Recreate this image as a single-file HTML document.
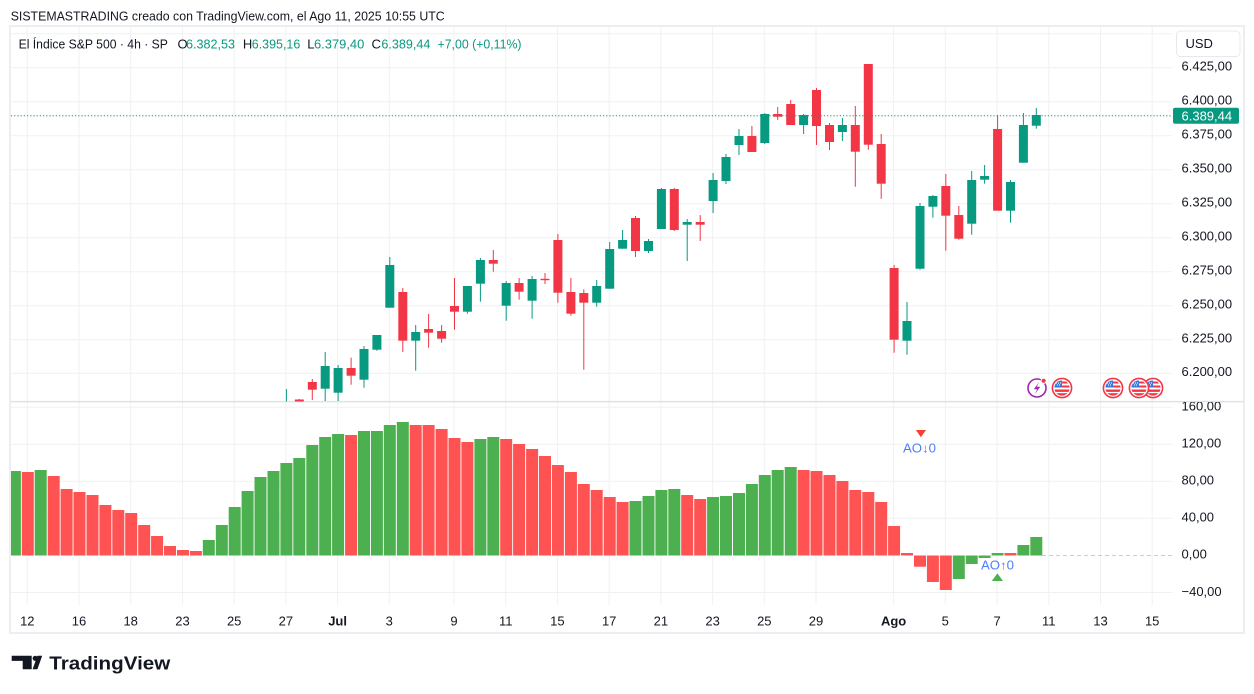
<!DOCTYPE html>
<html><head><meta charset="utf-8">
<style>
html,body{margin:0;padding:0;background:#fff;width:1254px;height:694px;overflow:hidden}
svg{display:block;font-family:"Liberation Sans",sans-serif}
</style></head>
<body>
<svg width="1254" height="694" viewBox="0 0 1254 694" xmlns="http://www.w3.org/2000/svg">
<defs>
  <clipPath id="pp"><rect x="11" y="27" width="1161" height="374.5"/></clipPath>
  <clipPath id="ip"><rect x="11" y="402" width="1161" height="203"/></clipPath>
  <clipPath id="ia"><rect x="1172" y="402" width="72" height="203"/></clipPath>
  <clipPath id="fc"><circle cx="0" cy="0" r="7.6"/></clipPath>
  <g id="flag">
    <circle cx="0" cy="0" r="9.6" fill="#fff" stroke="#f23645" stroke-width="1.6"/>
    <g clip-path="url(#fc)">
      <rect x="-8" y="-8" width="16" height="16" fill="#fff"/>
      <rect x="-8" y="-6.5" width="16" height="2" fill="#f23645"/>
      <rect x="-8" y="-2.5" width="16" height="2" fill="#f23645"/>
      <rect x="-8" y="1.5" width="16" height="2.4" fill="#f23645"/>
      <rect x="-8" y="5.2" width="16" height="3" fill="#f23645"/>
      <rect x="-8" y="-8" width="8" height="7.5" fill="#3a78e0"/>
      <circle cx="-5.5" cy="-5" r="0.6" fill="#fff"/><circle cx="-3.5" cy="-5" r="0.6" fill="#fff"/><circle cx="-1.5" cy="-5" r="0.6" fill="#fff"/>
      <circle cx="-4.5" cy="-3" r="0.6" fill="#fff"/><circle cx="-2.5" cy="-3" r="0.6" fill="#fff"/>
    </g>
  </g>
</defs>

<rect x="0" y="0" width="1254" height="694" fill="#fff"/>

<!-- header -->
<text x="10.7" y="20.5" font-size="13" fill="#131722" textLength="434" lengthAdjust="spacingAndGlyphs">SISTEMASTRADING creado con TradingView.com, el Ago 11, 2025 10:55 UTC</text>

<!-- frame -->
<rect x="10" y="26" width="1234" height="607" fill="none" stroke="#eceef2" stroke-width="2"/>

<!-- vertical gridlines -->
<g stroke="#f0f1f4" stroke-width="1">
  <line x1="27.3" y1="27" x2="27.3" y2="605"/>
  <line x1="79" y1="27" x2="79" y2="605"/>
  <line x1="130.7" y1="27" x2="130.7" y2="605"/>
  <line x1="182.5" y1="27" x2="182.5" y2="605"/>
  <line x1="234.2" y1="27" x2="234.2" y2="605"/>
  <line x1="285.9" y1="27" x2="285.9" y2="605"/>
  <line x1="337.6" y1="27" x2="337.6" y2="605"/>
  <line x1="389.3" y1="27" x2="389.3" y2="605"/>
  <line x1="454" y1="27" x2="454" y2="605"/>
  <line x1="505.7" y1="27" x2="505.7" y2="605"/>
  <line x1="557.4" y1="27" x2="557.4" y2="605"/>
  <line x1="609.2" y1="27" x2="609.2" y2="605"/>
  <line x1="660.9" y1="27" x2="660.9" y2="605"/>
  <line x1="712.6" y1="27" x2="712.6" y2="605"/>
  <line x1="764.3" y1="27" x2="764.3" y2="605"/>
  <line x1="816" y1="27" x2="816" y2="605"/>
  <line x1="893.6" y1="27" x2="893.6" y2="605"/>
  <line x1="945.3" y1="27" x2="945.3" y2="605"/>
  <line x1="997.1" y1="27" x2="997.1" y2="605"/>
  <line x1="1048.8" y1="27" x2="1048.8" y2="605"/>
  <line x1="1100.5" y1="27" x2="1100.5" y2="605"/>
  <line x1="1152.2" y1="27" x2="1152.2" y2="605"/>
</g>

<!-- horizontal gridlines price -->
<g stroke="#f0f1f4" stroke-width="1">
  <line x1="11" y1="33.7" x2="1172" y2="33.7"/>
  <line x1="11" y1="67.7" x2="1172" y2="67.7"/>
  <line x1="11" y1="101.7" x2="1172" y2="101.7"/>
  <line x1="11" y1="135.7" x2="1172" y2="135.7"/>
  <line x1="11" y1="169.7" x2="1172" y2="169.7"/>
  <line x1="11" y1="203.7" x2="1172" y2="203.7"/>
  <line x1="11" y1="237.7" x2="1172" y2="237.7"/>
  <line x1="11" y1="271.7" x2="1172" y2="271.7"/>
  <line x1="11" y1="305.7" x2="1172" y2="305.7"/>
  <line x1="11" y1="339.7" x2="1172" y2="339.7"/>
  <line x1="11" y1="373.2" x2="1172" y2="373.2"/>
</g>
<!-- horizontal gridlines indicator -->
<g stroke="#f0f1f4" stroke-width="1">
  <line x1="11" y1="407.3" x2="1172" y2="407.3"/>
  <line x1="11" y1="444.3" x2="1172" y2="444.3"/>
  <line x1="11" y1="481.3" x2="1172" y2="481.3"/>
  <line x1="11" y1="518.3" x2="1172" y2="518.3"/>
  <line x1="11" y1="592.5" x2="1172" y2="592.5"/>
</g>

<!-- pane separator -->
<line x1="11" y1="401.6" x2="1244" y2="401.6" stroke="#dfe1e8" stroke-width="1.5"/>

<!-- legend -->
<g font-size="13">
  <text x="18.6" y="48.5" fill="#131722" textLength="149.3" lengthAdjust="spacingAndGlyphs">El Índice S&amp;P 500 · 4h · SP</text>
  <text x="177.5" y="48.5" fill="#131722">O</text>
  <text x="186" y="48.5" fill="#089981" textLength="49" lengthAdjust="spacingAndGlyphs">6.382,53</text>
  <text x="242.9" y="48.5" fill="#131722">H</text>
  <text x="251.8" y="48.5" fill="#089981" textLength="48.5" lengthAdjust="spacingAndGlyphs">6.395,16</text>
  <text x="307.3" y="48.5" fill="#131722">L</text>
  <text x="314" y="48.5" fill="#089981" textLength="50.3" lengthAdjust="spacingAndGlyphs">6.379,40</text>
  <text x="371.5" y="48.5" fill="#131722">C</text>
  <text x="381.4" y="48.5" fill="#089981" textLength="49" lengthAdjust="spacingAndGlyphs">6.389,44</text>
  <text x="437.5" y="48.5" fill="#089981" textLength="84" lengthAdjust="spacingAndGlyphs">+7,00 (+0,11%)</text>
</g>

<!-- candles -->
<g clip-path="url(#pp)">
<g fill="#089981">
  <rect x="285.9" y="389" width="1" height="13"/>
  <rect x="324.7" y="352" width="1" height="49"/><rect x="320.7" y="366" width="9" height="22.7"/>
  <rect x="337.6" y="365" width="1" height="36"/><rect x="333.6" y="368" width="9" height="24.7"/>
  <rect x="363.5" y="346" width="1" height="41.7"/><rect x="359.5" y="349" width="9" height="30.7"/>
  <rect x="376.4" y="335" width="1" height="15.7"/><rect x="372.4" y="335" width="9" height="14.7"/>
  <rect x="389.3" y="257" width="1" height="50.7"/><rect x="385.3" y="265" width="9" height="42.7"/>
  <rect x="415.2" y="325" width="1" height="45.7"/><rect x="411.2" y="332" width="9" height="8.7"/>
  <rect x="466.9" y="286" width="1" height="27.7"/><rect x="462.9" y="286" width="9" height="25.7"/>
  <rect x="479.9" y="258" width="1" height="43.7"/><rect x="475.9" y="260" width="9" height="23.7"/>
  <rect x="505.7" y="281" width="1" height="39.7"/><rect x="501.7" y="283" width="9" height="22.7"/>
  <rect x="531.6" y="276" width="1" height="42.7"/><rect x="527.6" y="279" width="9" height="21.7"/>
  <rect x="596.2" y="280" width="1" height="26.7"/><rect x="592.2" y="286" width="9" height="16.7"/>
  <rect x="609.2" y="242" width="1" height="46.7"/><rect x="605.2" y="249" width="9" height="39.7"/>
  <rect x="622.1" y="230" width="1" height="18.7"/><rect x="618.1" y="240" width="9" height="8.7"/>
  <rect x="648" y="239" width="1" height="14"/><rect x="644" y="241" width="9" height="10"/>
  <rect x="660.9" y="188" width="1" height="41"/><rect x="656.9" y="189" width="9" height="40"/>
  <rect x="686.7" y="219" width="1" height="42"/><rect x="682.7" y="222" width="9" height="2.7"/>
  <rect x="712.6" y="173" width="1" height="40"/><rect x="708.6" y="180" width="9" height="21"/>
  <rect x="725.5" y="154" width="1" height="30"/><rect x="721.5" y="157" width="9" height="24"/>
  <rect x="738.5" y="129" width="1" height="26"/><rect x="734.5" y="136" width="9" height="9"/>
  <rect x="764.3" y="113" width="1" height="31"/><rect x="760.3" y="114" width="9" height="29"/>
  <rect x="803.1" y="114" width="1" height="20"/><rect x="799.1" y="115" width="9" height="10"/>
  <rect x="841.9" y="118" width="1" height="23"/><rect x="837.9" y="125" width="9" height="7"/>
  <rect x="906.5" y="302" width="1" height="52.7"/><rect x="902.5" y="321" width="9" height="19.7"/>
  <rect x="919.5" y="203" width="1" height="66.7"/><rect x="915.5" y="206" width="9" height="62.7"/>
  <rect x="932.4" y="195" width="1" height="22.7"/><rect x="928.4" y="196" width="9" height="10.7"/>
  <rect x="971.2" y="171" width="1" height="63.7"/><rect x="967.2" y="180" width="9" height="43.7"/>
  <rect x="984.1" y="165" width="1" height="18.7"/><rect x="980.1" y="176" width="9" height="3.7"/>
  <rect x="1010" y="180" width="1" height="42.7"/><rect x="1006" y="182" width="9" height="28.7"/>
  <rect x="1022.9" y="113" width="1" height="49.7"/><rect x="1018.9" y="125" width="9" height="37.7"/>
  <rect x="1035.8" y="108" width="1" height="20.7"/><rect x="1031.8" y="115" width="9" height="10.7"/>
</g>
<g fill="#f23645">
  <rect x="298.8" y="399" width="1" height="3"/><rect x="294.8" y="399.5" width="9" height="2"/>
  <rect x="311.8" y="379" width="1" height="21"/><rect x="307.8" y="382" width="9" height="7.7"/>
  <rect x="350.6" y="357.7" width="1" height="27"/><rect x="346.6" y="368" width="9" height="7.7"/>
  <rect x="402.3" y="288" width="1" height="64"/><rect x="398.3" y="292" width="9" height="48.7"/>
  <rect x="428.1" y="314" width="1" height="33.7"/><rect x="424.1" y="329" width="9" height="3.7"/>
  <rect x="441.1" y="325" width="1" height="17.7"/><rect x="437.1" y="331" width="9" height="7.7"/>
  <rect x="454" y="278" width="1" height="51.7"/><rect x="450" y="306" width="9" height="5.7"/>
  <rect x="492.8" y="250" width="1" height="21.7"/><rect x="488.8" y="260" width="9" height="3.7"/>
  <rect x="518.6" y="278" width="1" height="21.7"/><rect x="514.6" y="283" width="9" height="8.7"/>
  <rect x="544.5" y="273" width="1" height="11"/><rect x="540.5" y="278.8" width="9" height="1.4"/>
  <rect x="557.4" y="234" width="1" height="68.7"/><rect x="553.4" y="240" width="9" height="52.7"/>
  <rect x="570.4" y="278" width="1" height="37.7"/><rect x="566.4" y="292" width="9" height="21.7"/>
  <rect x="583.3" y="289.3" width="1" height="80.4"/><rect x="579.3" y="293" width="9" height="9.7"/>
  <rect x="635" y="216" width="1" height="41"/><rect x="631" y="218" width="9" height="33"/>
  <rect x="673.8" y="188" width="1" height="43"/><rect x="669.8" y="189" width="9" height="41"/>
  <rect x="699.7" y="215" width="1" height="26"/><rect x="695.7" y="222" width="9" height="2.7"/>
  <rect x="751.4" y="126" width="1" height="26"/><rect x="747.4" y="136" width="9" height="16"/>
  <rect x="777.2" y="107" width="1" height="13"/><rect x="773.2" y="114" width="9" height="2.7"/>
  <rect x="790.2" y="100" width="1" height="25"/><rect x="786.2" y="104" width="9" height="21"/>
  <rect x="816" y="88" width="1" height="57"/><rect x="812" y="90" width="9" height="36"/>
  <rect x="829" y="123" width="1" height="27"/><rect x="825" y="125" width="9" height="17"/>
  <rect x="854.8" y="106" width="1" height="80.7"/><rect x="850.8" y="125" width="9" height="26.7"/>
  <rect x="867.8" y="64" width="1" height="85.7"/><rect x="863.8" y="64" width="9" height="80.7"/>
  <rect x="880.7" y="134" width="1" height="64.7"/><rect x="876.7" y="144" width="9" height="39.7"/>
  <rect x="893.6" y="265" width="1" height="87.7"/><rect x="889.6" y="268" width="9" height="71.7"/>
  <rect x="945.3" y="174" width="1" height="76.7"/><rect x="941.3" y="186" width="9" height="29.7"/>
  <rect x="958.3" y="206" width="1" height="33.7"/><rect x="954.3" y="215" width="9" height="23.7"/>
  <rect x="997.1" y="115" width="1" height="95.7"/><rect x="993.1" y="129" width="9" height="81.7"/>
</g>
</g>

<!-- last price dotted line -->
<line x1="11" y1="115.7" x2="1172" y2="115.7" stroke="#089981" stroke-width="1" stroke-dasharray="1.2 2"/>

<!-- event icons -->
<circle cx="1037" cy="388" r="9" fill="#fff" stroke="#9c27b0" stroke-width="1.6"/>
<path d="M1039.2 382 L1033.8 389.2 L1037.2 389.2 L1034.8 394.2 L1040.2 386.8 L1036.8 386.8 Z" fill="#9c27b0"/>
<circle cx="1043.6" cy="380.8" r="2.6" fill="#f23645" stroke="#fff" stroke-width="1"/>
<use href="#flag" x="1153" y="388"/>
<use href="#flag" x="1139" y="388"/>
<use href="#flag" x="1113" y="388"/>
<use href="#flag" x="1062" y="388"/>

<!-- AO histogram -->
<g clip-path="url(#ip)">
<line x1="1042" y1="555.5" x2="1172" y2="555.5" stroke="#c9ccd3" stroke-width="1" stroke-dasharray="4 3"/>
<g fill="#4caf50">
  <rect x="8.9" y="471" width="12" height="84.5"/>
  <rect x="34.7" y="470" width="12" height="85.5"/>
  <rect x="202.8" y="540" width="12" height="15.5"/>
  <rect x="215.8" y="525" width="12" height="30.5"/>
  <rect x="228.7" y="507" width="12" height="48.5"/>
  <rect x="241.6" y="491" width="12" height="64.5"/>
  <rect x="254.5" y="477" width="12" height="78.5"/>
  <rect x="267.5" y="471" width="12" height="84.5"/>
  <rect x="280.4" y="463" width="12" height="92.5"/>
  <rect x="293.3" y="458" width="12" height="97.5"/>
  <rect x="306.3" y="445" width="12" height="110.5"/>
  <rect x="319.2" y="437" width="12" height="118.5"/>
  <rect x="332.1" y="434" width="12" height="121.5"/>
  <rect x="358" y="431" width="12" height="124.5"/>
  <rect x="370.9" y="431" width="12" height="124.5"/>
  <rect x="383.8" y="425" width="12" height="130.5"/>
  <rect x="396.8" y="422" width="12" height="133.5"/>
  <rect x="474.4" y="439" width="12" height="116.5"/>
  <rect x="487.3" y="437" width="12" height="118.5"/>
  <rect x="629.5" y="501" width="12" height="54.5"/>
  <rect x="642.5" y="496" width="12" height="59.5"/>
  <rect x="655.4" y="490" width="12" height="65.5"/>
  <rect x="668.3" y="489" width="12" height="66.5"/>
  <rect x="707.1" y="497" width="12" height="58.5"/>
  <rect x="720" y="496" width="12" height="59.5"/>
  <rect x="733" y="493" width="12" height="62.5"/>
  <rect x="745.9" y="484" width="12" height="71.5"/>
  <rect x="758.8" y="475" width="12" height="80.5"/>
  <rect x="771.7" y="470" width="12" height="85.5"/>
  <rect x="784.7" y="467" width="12" height="88.5"/>
  <rect x="952.8" y="555.5" width="12" height="23.5"/>
  <rect x="965.7" y="555.5" width="12" height="8.5"/>
  <rect x="978.6" y="555.5" width="12" height="2.5"/>
  <rect x="991.6" y="553" width="12" height="2.5"/>
  <rect x="1017.4" y="545" width="12" height="10.5"/>
  <rect x="1030.3" y="537" width="12" height="18.5"/>
</g>
<g fill="#ff5252">
  <rect x="21.8" y="472" width="12" height="83.5"/>
  <rect x="47.7" y="476" width="12" height="79.5"/>
  <rect x="60.6" y="489" width="12" height="66.5"/>
  <rect x="73.5" y="492" width="12" height="63.5"/>
  <rect x="86.5" y="495" width="12" height="60.5"/>
  <rect x="99.4" y="505" width="12" height="50.5"/>
  <rect x="112.3" y="510" width="12" height="45.5"/>
  <rect x="125.2" y="513" width="12" height="42.5"/>
  <rect x="138.2" y="525" width="12" height="30.5"/>
  <rect x="151.1" y="536" width="12" height="19.5"/>
  <rect x="164" y="546" width="12" height="9.5"/>
  <rect x="177" y="550" width="12" height="5.5"/>
  <rect x="189.9" y="551" width="12" height="4.5"/>
  <rect x="345.1" y="435" width="12" height="120.5"/>
  <rect x="409.7" y="425" width="12" height="130.5"/>
  <rect x="422.6" y="425" width="12" height="130.5"/>
  <rect x="435.6" y="429" width="12" height="126.5"/>
  <rect x="448.5" y="438" width="12" height="117.5"/>
  <rect x="461.4" y="442" width="12" height="113.5"/>
  <rect x="500.2" y="439" width="12" height="116.5"/>
  <rect x="513.1" y="444" width="12" height="111.5"/>
  <rect x="526.1" y="449" width="12" height="106.5"/>
  <rect x="539" y="456" width="12" height="99.5"/>
  <rect x="551.9" y="465" width="12" height="90.5"/>
  <rect x="564.9" y="472" width="12" height="83.5"/>
  <rect x="577.8" y="484" width="12" height="71.5"/>
  <rect x="590.7" y="490" width="12" height="65.5"/>
  <rect x="603.7" y="497" width="12" height="58.5"/>
  <rect x="616.6" y="502" width="12" height="53.5"/>
  <rect x="681.2" y="495" width="12" height="60.5"/>
  <rect x="694.2" y="499" width="12" height="56.5"/>
  <rect x="797.6" y="470" width="12" height="85.5"/>
  <rect x="810.5" y="471" width="12" height="84.5"/>
  <rect x="823.5" y="475" width="12" height="80.5"/>
  <rect x="836.4" y="481" width="12" height="74.5"/>
  <rect x="849.3" y="490" width="12" height="65.5"/>
  <rect x="862.3" y="492" width="12" height="63.5"/>
  <rect x="875.2" y="502" width="12" height="53.5"/>
  <rect x="888.1" y="526" width="12" height="29.5"/>
  <rect x="901" y="553" width="12" height="2.5"/>
  <rect x="914" y="555.5" width="12" height="11.2"/>
  <rect x="926.9" y="555.5" width="12" height="26.5"/>
  <rect x="939.8" y="555.5" width="12" height="34.5"/>
  <rect x="1004.5" y="553" width="12" height="2.5"/>
</g>
</g>

<!-- AO signals -->
<polygon points="915.8,430 926,430 920.9,437.2" fill="#f44336"/>
<text x="903" y="452.5" font-size="12.5" fill="#4d7ef7" textLength="33" lengthAdjust="spacingAndGlyphs">AO↓0</text>
<text x="981" y="569.5" font-size="12.5" fill="#4d7ef7" textLength="33" lengthAdjust="spacingAndGlyphs">AO↑0</text>
<polygon points="991.8,581 1003,581 997.4,573.4" fill="#4caf50"/>

<!-- price axis -->
<g font-size="13" fill="#131722">
  <text x="1181.5" y="70.7">6.425,00</text>
  <text x="1181.5" y="104.7">6.400,00</text>
  <text x="1181.5" y="138.7">6.375,00</text>
  <text x="1181.5" y="172.7">6.350,00</text>
  <text x="1181.5" y="206.7">6.325,00</text>
  <text x="1181.5" y="240.7">6.300,00</text>
  <text x="1181.5" y="274.7">6.275,00</text>
  <text x="1181.5" y="308.7">6.250,00</text>
  <text x="1181.5" y="342.7">6.225,00</text>
  <text x="1181.5" y="376.2">6.200,00</text>
</g>
<rect x="1173" y="107.7" width="66" height="16" rx="2" fill="#089981"/>
<text x="1181.5" y="120.4" font-size="13" fill="#fff">6.389,44</text>

<!-- USD box -->
<rect x="1176.5" y="31" width="63.5" height="25.5" rx="4" fill="#fff" stroke="#e6e8ee" stroke-width="1"/>
<text x="1185.5" y="48" font-size="13" fill="#131722">USD</text>

<!-- indicator axis -->
<g font-size="13" fill="#131722" clip-path="url(#ia)">
  <text x="1181.5" y="410.3">160,00</text>
  <text x="1181.5" y="447.3">120,00</text>
  <text x="1181.5" y="484.3">80,00</text>
  <text x="1181.5" y="521.3">40,00</text>
  <text x="1181.5" y="558.6">0,00</text>
  <text x="1181.5" y="595.8">−40,00</text>
</g>

<!-- time axis -->
<g font-size="13" fill="#131722" text-anchor="middle">
  <text x="27.3" y="625.3">12</text>
  <text x="79" y="625.3">16</text>
  <text x="130.7" y="625.3">18</text>
  <text x="182.5" y="625.3">23</text>
  <text x="234.2" y="625.3">25</text>
  <text x="285.9" y="625.3">27</text>
  <text x="337.6" y="625.3" font-weight="bold">Jul</text>
  <text x="389.3" y="625.3">3</text>
  <text x="454" y="625.3">9</text>
  <text x="505.7" y="625.3">11</text>
  <text x="557.4" y="625.3">15</text>
  <text x="609.2" y="625.3">17</text>
  <text x="660.9" y="625.3">21</text>
  <text x="712.6" y="625.3">23</text>
  <text x="764.3" y="625.3">25</text>
  <text x="816" y="625.3">29</text>
  <text x="893.6" y="625.3" font-weight="bold">Ago</text>
  <text x="945.3" y="625.3">5</text>
  <text x="997.1" y="625.3">7</text>
  <text x="1048.8" y="625.3">11</text>
  <text x="1100.5" y="625.3">13</text>
  <text x="1152.2" y="625.3">15</text>
</g>

<!-- TradingView logo -->
<path d="M11.7 655.7 H31.7 V669.2 H22.7 V660.9 H11.7 Z" fill="#131722"/>
<circle cx="35.2" cy="658.3" r="2.6" fill="#131722"/>
<polygon points="37.4,655.7 42.2,655.7 37.4,669.2 32.6,669.2" fill="#131722"/>
<text x="49.3" y="669.5" font-size="18" font-weight="bold" fill="#131722" textLength="121" lengthAdjust="spacingAndGlyphs">TradingView</text>
</svg>
</body></html>
